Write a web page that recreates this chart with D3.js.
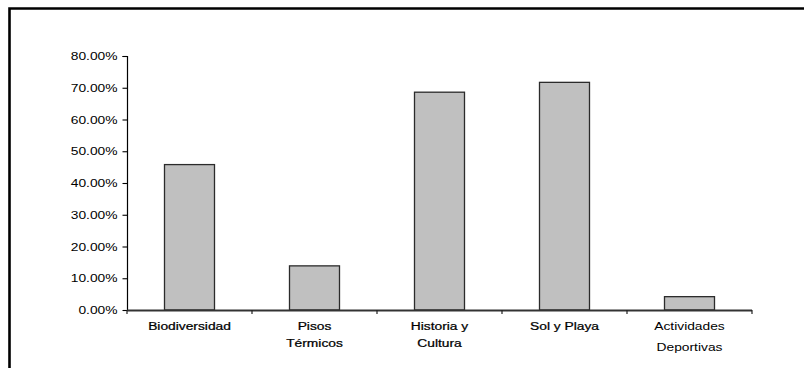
<!DOCTYPE html>
<html>
<head>
<meta charset="utf-8">
<script src="https://cdn.jsdelivr.net/npm/d3@7"></script>
<style>
  html, body { margin: 0; padding: 0; background: #fff; }
  svg { display: block; }
  text { font-family: "Liberation Sans", Arial, sans-serif; fill: #000; }
</style>
</head>
<body>
<svg id="chart" width="804" height="368"></svg>
<script>
// Categories (multi-line labels) and their shares
const categories = [
  ["Biodiversidad"],
  ["Pisos", "Térmicos"],
  ["Historia y", "Cultura"],
  ["Sol y Playa"],
  ["Actividades", "Deportivas"]
];
const values = [0.458, 0.139, 0.686, 0.717, 0.042];
const yTicks = [0, 0.1, 0.2, 0.3, 0.4, 0.5, 0.6, 0.7, 0.8];

const svg = d3.select("#chart");
const W = 804, H = 368;
const margin = { left: 127, right: 52, top: 56, bottom: 58 };
const plotW = W - margin.left - margin.right;   // 625
const plotH = H - margin.top - margin.bottom;   // 254

// Horizontal stretch applied to labels
const SX = 1.2;
const FS = 11.5;

// Frame (top and left edges)
svg.append("path")
  .attr("d", `M9.5,${H + 2} V8.5 H${W + 2}`)
  .attr("fill", "none")
  .attr("stroke", "#000")
  .attr("stroke-width", 2.6);

const keys = categories.map((c, i) => i);
const x = d3.scaleBand().domain(keys).range([0, plotW]).paddingInner(0).paddingOuter(0);
const y = d3.scaleLinear().domain([0, 0.8]).range([plotH, 0]);

const g = svg.append("g").attr("transform", `translate(${margin.left},${margin.top})`);

// Bars
const barW = x.bandwidth() * 0.4;
g.selectAll("rect.bar")
  .data(values)
  .join("rect")
  .attr("class", "bar")
  .attr("x", (d, i) => x(i) + (x.bandwidth() - barW) / 2)
  .attr("y", d => y(d))
  .attr("width", barW)
  .attr("height", d => plotH - y(d))
  .attr("fill", "#c0c0c0")
  .attr("stroke", "#2b2b2b")
  .attr("stroke-width", 1.3);

// Y axis
const fmt = d => (d * 100).toFixed(2) + "%";
const yAxis = g.append("g").call(
  d3.axisLeft(y).tickValues(yTicks).tickFormat(fmt).tickSize(4.5).tickPadding(5)
);
yAxis.select(".domain").attr("stroke", "#000").attr("stroke-width", 1.2)
  .attr("d", `M-4.5,0.5H0.5V${plotH + 0.5}`);
yAxis.selectAll(".tick line").attr("stroke", "#000").attr("stroke-width", 1.1);
yAxis.selectAll(".tick text")
  .attr("font-size", FS)
  .attr("font-family", "Liberation Sans, Arial, sans-serif")
  .attr("fill", "#000")
  .each(function () {
    const t = d3.select(this);
    const xx = +t.attr("x");
    t.attr("x", xx / SX).attr("transform", `scale(${SX},1)`);
  });

// X axis: baseline with ticks at category boundaries
const xg = g.append("g").attr("transform", `translate(0,${plotH})`);
xg.append("line")
  .attr("x1", 0).attr("x2", plotW)
  .attr("y1", 0.5).attr("y2", 0.5)
  .attr("stroke", "#333").attr("stroke-width", 1.8);
const bounds = keys.map(k => x(k)).concat([plotW]);
xg.selectAll("line.xt")
  .data(bounds)
  .join("line")
  .attr("class", "xt")
  .attr("x1", d => d).attr("x2", d => d)
  .attr("y1", 0).attr("y2", 4)
  .attr("stroke", "#222").attr("stroke-width", 1.2);

// Category labels
const lineGap = [0, 17, 17, 0, 21];
const labels = xg.selectAll("text.cat")
  .data(categories)
  .join("text")
  .attr("class", "cat")
  .attr("font-size", FS)
  .attr("text-anchor", "middle")
  .attr("transform", (d, i) => `translate(${x(i) + x.bandwidth() / 2},0) scale(${SX},1)`);
labels.each(function (lines, i) {
  const t = d3.select(this);
  lines.forEach((s, j) => {
    t.append("tspan")
      .attr("x", 0)
      .attr("y", 20 + j * lineGap[i])
      .attr("stroke", i < 4 ? "#000" : "none")
      .attr("stroke-width", i < 4 ? 0.25 : 0)
      .text(s);
  });
});
</script>
</body>
</html>
